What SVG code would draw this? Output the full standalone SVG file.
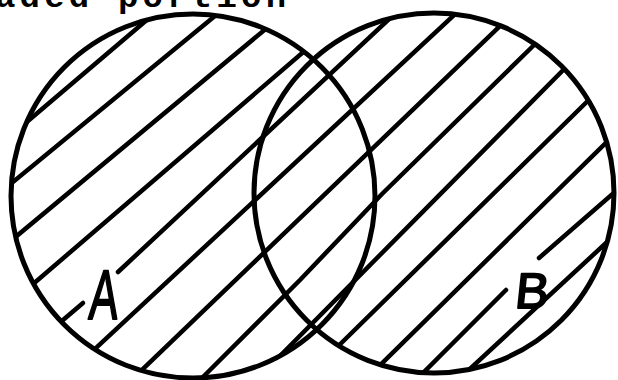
<svg xmlns="http://www.w3.org/2000/svg" width="618" height="380" viewBox="0 0 618 380">
  <style>
    .ring { fill: none; stroke: #000; stroke-width: 5; }
    .h { stroke: #000; stroke-width: 4.5; stroke-linecap: round; fill: none; }
    .lbl { font-family: "Liberation Sans", Arial, sans-serif; fill: #000; stroke: #000; stroke-width: 2; stroke-linejoin: round; }
    .cap { font-family: "Liberation Mono", "Courier New", monospace; font-weight: bold; fill: #000; }
  </style>
  <defs>
    <clipPath id="union">
      <circle cx="193" cy="196" r="182"/>
      <circle cx="434" cy="193" r="180"/>
    </clipPath>
  </defs>
  <rect width="618" height="380" fill="#fff"/>

  <text class="cap" x="-5" y="7" font-size="34" letter-spacing="4.2">aded portion</text>

  <g id="hatching" clip-path="url(#union)">
    <line class="h" x1="15" y1="132" x2="155" y2="13"/>
    <line class="h" x1="-7" y1="198.4" x2="230" y2="3.6"/>
    <line class="h" x1="-2" y1="251.6" x2="282" y2="15.4"/>
    <line class="h" x1="18" y1="297" x2="322" y2="36"/>
    <line class="h" x1="43" y1="337" x2="83" y2="303"/>
    <line class="h" x1="118" y1="272" x2="406" y2="3.3"/>
    <line class="h" x1="77" y1="365.6" x2="472" y2="-1.6"/>
    <line class="h" x1="120" y1="391" x2="519" y2="7.8"/>
    <polyline class="h" points="187,393 207,373 300,280 382,194 532,47 552,28"/>
    <line class="h" x1="273" y1="363" x2="586" y2="47"/>
    <line class="h" x1="319" y1="365" x2="606" y2="83"/>
    <line class="h" x1="362" y1="383" x2="626" y2="123"/>
    <line class="h" x1="404" y1="392" x2="506" y2="290"/>
    <line class="h" x1="539" y1="258" x2="629" y2="179.6"/>
    <line class="h" x1="452" y1="385.5" x2="626" y2="224.5"/>
  </g>

  <g id="set-A">
    <circle class="ring" cx="193" cy="196" r="182"/>
    <text class="lbl" font-size="70" transform="translate(88,319) skewX(-4) scale(0.62,1)">A</text>
  </g>

  <g id="set-B">
    <circle class="ring" cx="434" cy="193" r="180"/>
    <text class="lbl" font-size="50" transform="translate(514,308) skewX(-6)">B</text>
  </g>

  <g id="connectors"></g>
</svg>
